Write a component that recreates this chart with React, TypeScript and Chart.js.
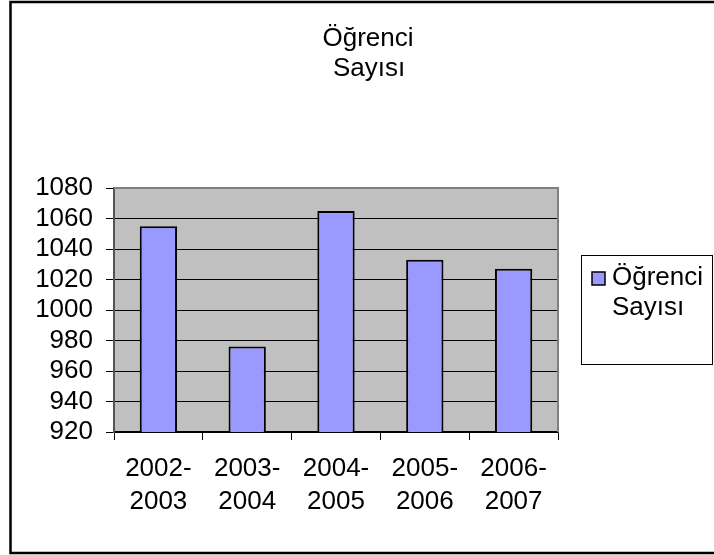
import { useEffect, useRef } from 'react';
import { Chart, registerables } from 'chart.js';

Chart.register(...registerables);

const categories: string[][] = [
  ['2002-', '2003'],
  ['2003-', '2004'],
  ['2004-', '2005'],
  ['2005-', '2006'],
  ['2006-', '2007'],
];
const seriesLabel = 'Öğrenci Sayısı';
const values = [1055, 976, 1065, 1033, 1027];
const titleLines = ['Öğrenci', 'Sayısı'];
const legendLines = ['Öğrenci', 'Sayısı'];
const yMin = 920;
const yMax = 1080;
const yStep = 20;

const FONT = '"Liberation Sans", Arial, sans-serif';
const FS = 26;
const W = 714;
const H = 555;
const BAR_COLOR = '#9999FF';

const decor = {
  id: 'decor',
  beforeDraw(chart: any) {
    const { ctx, chartArea: a } = chart;
    ctx.save();
    ctx.fillStyle = '#ffffff';
    ctx.fillRect(0, 0, chart.width, chart.height);
    ctx.fillStyle = '#C0C0C0';
    ctx.fillRect(a.left, a.top, a.right - a.left, a.bottom - a.top);
    ctx.restore();
  },
  afterDraw(chart: any) {
    const { ctx, chartArea: a } = chart;
    ctx.save();
    // plot area border (top & right)
    ctx.strokeStyle = '#808080';
    ctx.lineWidth = 2;
    ctx.beginPath();
    ctx.moveTo(a.left, a.top);
    ctx.lineTo(a.right, a.top);
    ctx.lineTo(a.right, a.bottom);
    ctx.stroke();

    // outer chart border
    ctx.strokeStyle = '#000';
    ctx.lineWidth = 2.5;
    ctx.strokeRect(10.5, 2, 730, 551);

    // title
    ctx.fillStyle = '#000';
    ctx.font = `${FS}px ${FONT}`;
    ctx.textAlign = 'center';
    ctx.textBaseline = 'alphabetic';
    ctx.fillText(titleLines[0], 368, 46);
    ctx.fillText(titleLines[1], 369, 76);

    // legend
    ctx.strokeStyle = '#000';
    ctx.lineWidth = 1;
    ctx.strokeRect(581.5, 255.5, 131, 109);
    ctx.fillStyle = BAR_COLOR;
    ctx.fillRect(592, 272, 13, 13);
    ctx.lineWidth = 1.5;
    ctx.strokeRect(592, 272, 13, 13);
    ctx.fillStyle = '#000';
    ctx.textAlign = 'left';
    ctx.fillText(legendLines[0], 612, 285);
    ctx.textAlign = 'center';
    ctx.fillText(legendLines[1], 648, 315);
    ctx.restore();
  },
};

export default function App() {
  const ref = useRef<HTMLCanvasElement | null>(null);

  useEffect(() => {
    if (!ref.current) return;
    const chart = new Chart(ref.current, {
      type: 'bar',
      data: {
        labels: categories,
        datasets: [
          {
            label: seriesLabel,
            data: values,
            backgroundColor: BAR_COLOR,
            borderColor: '#000',
            borderWidth: 2,
            barPercentage: 0.42,
            categoryPercentage: 1,
          },
        ],
      },
      options: {
        responsive: false,
        animation: false,
        devicePixelRatio: 1,
        layout: { padding: { left: 0, top: 188, right: 156, bottom: 0 } },
        plugins: {
          legend: { display: false },
          title: { display: false },
          tooltip: { enabled: false },
        },
        scales: {
          x: {
            offset: true,
            grid: {
              offset: true,
              drawOnChartArea: false,
              drawTicks: true,
              tickLength: 8,
              tickColor: '#000',
              tickWidth: 1,
            },
            border: { display: true, color: '#000', width: 1.5 },
            ticks: {
              color: '#000',
              font: { family: FONT, size: FS, lineHeight: 1.29 },
              padding: 12,
              maxRotation: 0,
              autoSkip: false,
            },
            afterFit: (s: any) => {
              s.height = H - 432;
            },
          },
          y: {
            min: yMin,
            max: yMax,
            grid: {
              color: '#000',
              lineWidth: 1,
              drawTicks: true,
              tickLength: 8,
              tickColor: '#000',
            },
            border: { display: true, color: '#555', width: 2 },
            ticks: {
              stepSize: yStep,
              autoSkip: false,
              color: '#000',
              font: { family: FONT, size: FS },
              padding: 13,
              callback: (v: any) => String(v),
            },
            afterFit: (s: any) => {
              s.width = 114;
            },
          },
        },
      },
      plugins: [decor],
    } as any);
    return () => chart.destroy();
  }, []);

  return (
    <div style={{ position: 'fixed', left: 0, top: 0, width: W, height: H }}>
      <canvas ref={ref} width={W} height={H} style={{ width: W, height: H, display: 'block' }} />
    </div>
  );
}
